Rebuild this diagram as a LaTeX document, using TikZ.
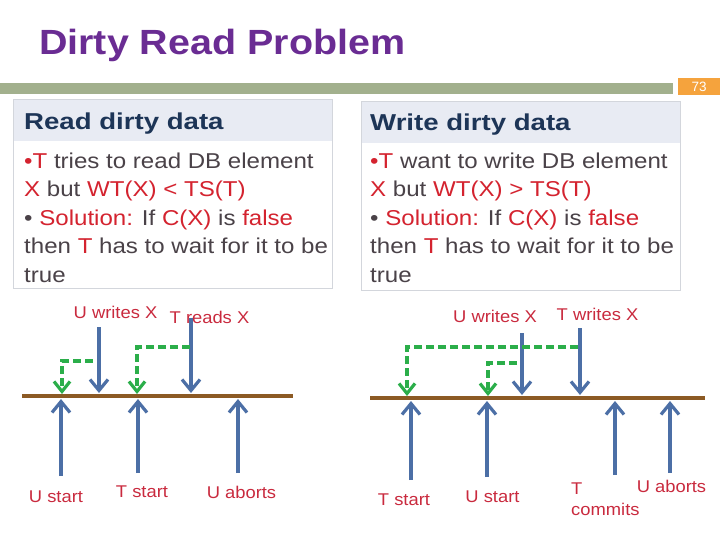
\documentclass[tikz,border=0pt]{standalone}
\usepackage{fontspec}
\setmainfont{Liberation Sans}
\usepackage{graphicx}
\usetikzlibrary{arrows.meta}
\definecolor{titlepurple}{HTML}{6A2C93}
\definecolor{barsage}{HTML}{A2B08D}
\definecolor{numorange}{HTML}{F5A33D}
\definecolor{headnavy}{HTML}{1D3557}
\definecolor{headband}{HTML}{E8EBF3}
\definecolor{boxedge}{HTML}{D3D6DC}
\definecolor{bodygray}{HTML}{4A4248}
\definecolor{bodyred}{HTML}{D4232F}
\definecolor{lblred}{HTML}{C92A3E}
\definecolor{timebrown}{HTML}{8C5A24}
\definecolor{evblue}{HTML}{4C6FA6}
\definecolor{waitgreen}{HTML}{2BAE4A}
\newcommand{\hx}[2]{\scalebox{#1}[1]{#2}}
\newcommand{\rd}[1]{\textcolor{bodyred}{#1}}
\begin{document}
\begin{tikzpicture}[x=1pt,y=-1pt,
  titletext/.style={anchor=base west, inner sep=0, text=titlepurple, font=\bfseries\fontsize{35}{42}\selectfont},
  panelbox/.style={draw=boxedge, line width=1pt, fill=white, minimum width=319, minimum height=189, anchor=north west, inner sep=0},
  panelhead/.style={fill=headband, minimum width=318, minimum height=41, anchor=north west, inner sep=0},
  headtext/.style={anchor=base west, inner sep=0, text=headnavy, font=\bfseries\fontsize{23}{27}\selectfont},
  bodytext/.style={anchor=base west, inner sep=0, text=bodygray, font=\fontsize{21.5}{28.6}\selectfont},
  lbl/.style={anchor=base, inner sep=0, text=lblred, font=\fontsize{17}{20}\selectfont},
  timeline/.style={draw=timebrown, line width=4pt},
  evarrow/.style={draw=evblue, line width=3.2pt, -{Straight Barb[length=11pt,width=18pt]}},
  waitarrow/.style={draw=waitgreen, line width=3.2pt, dash pattern=on 8pt off 4pt, -{Straight Barb[length=10pt,width=16pt]}}
]
\useasboundingbox (0,0) rectangle (720,539);
% title and bar
\node[titletext] (title) at (39,54) {\hx{1.127}{Dirty Read Problem}};
\node[fill=barsage, minimum width=673, minimum height=11, anchor=north west, inner sep=0] (bar) at (0,83) {};
\node[fill=numorange, minimum width=42, minimum height=17, anchor=north west, inner sep=0, text=white, font=\fontsize{13.5}{15}\selectfont] (pnum) at (678,78) {73};
% left panel
\node[panelbox] (lbox) at (13,99) {};
\node[panelhead] (lhead) at (13.5,99.5) {};
\node[headtext] (lheadtxt) at (24,129) {\hx{1.2}{Read dirty data}};
\node[bodytext] (lbody) at (24,168) {\hx{1.12}{\begin{tabular}[t]{@{}l@{}}
\rd{•T} tries to read DB element\\
\rd{X} but \rd{WT(X) < TS(T)}\\
• \rd{Solution:} If \rd{C(X)} is \rd{false}\\
then \rd{T} has to wait for it to be\\
true\end{tabular}}};
% right panel
\node[panelbox] (rbox) at (361,101) {};
\node[panelhead] (rhead) at (361.5,101.5) {};
\node[headtext] (rheadtxt) at (370,130) {\hx{1.2}{Write dirty data}};
\node[bodytext] (rbody) at (370,168) {\hx{1.12}{\begin{tabular}[t]{@{}l@{}}
\rd{•T} want to write DB element\\
\rd{X} but \rd{WT(X) > TS(T)}\\
• \rd{Solution:} If \rd{C(X)} is \rd{false}\\
then \rd{T} has to wait for it to be\\
true\end{tabular}}};
% ---------- left diagram ----------
\coordinate (lA) at (22,396);
\coordinate (lB) at (293,396);
\draw[timeline] (lA) -- (lB);
\node[lbl] (luw) at (115.5,318) {\hx{1.08}{U writes X}};
\node[lbl] (ltr) at (209.5,323) {\hx{1.08}{T reads X}};
\node[lbl] (lus) at (56,502) {\hx{1.08}{U start}};
\node[lbl] (lts) at (142,497) {\hx{1.08}{T start}};
\node[lbl] (lua) at (241.5,498) {\hx{1.08}{U aborts}};
\coordinate (luwTop) at (99,327);
\coordinate (luwTip) at (99,393);
\coordinate (ltrTop) at (191,318);
\coordinate (ltrTip) at (191,393);
\coordinate (lusBot) at (61,476);
\coordinate (lusTip) at (61,399);
\coordinate (ltsBot) at (138,473);
\coordinate (ltsTip) at (138,399);
\coordinate (luaBot) at (238,473);
\coordinate (luaTip) at (238,399);
\draw[evarrow] (luwTop) -- (luwTip);
\draw[evarrow] (ltrTop) -- (ltrTip);
\draw[evarrow] (lusBot) -- (lusTip);
\draw[evarrow] (ltsBot) -- (ltsTip);
\draw[evarrow] (luaBot) -- (luaTip);
\coordinate (lg1s) at (93,361);
\coordinate (lg1e) at (62,394);
\coordinate (lg2s) at (190,347);
\coordinate (lg2e) at (137,394);
\draw[waitarrow] (lg1s) -| (lg1e);
\draw[waitarrow] (lg2s) -| (lg2e);
% ---------- right diagram ----------
\coordinate (rA) at (370,398);
\coordinate (rB) at (705,398);
\draw[timeline] (rA) -- (rB);
\node[lbl] (ruw) at (495,322) {\hx{1.08}{U writes X}};
\node[lbl] (rtw) at (597.5,320) {\hx{1.08}{T writes X}};
\node[lbl] (rts) at (404,505) {\hx{1.08}{T start}};
\node[lbl] (rus) at (492.5,502) {\hx{1.08}{U start}};
\node[lbl, anchor=base west] (rtc) at (571,494) {\hx{1.08}{\begin{tabular}[t]{@{}l@{}}T\\[1pt] commits\end{tabular}}};
\node[lbl] (rua) at (671.5,492) {\hx{1.08}{U aborts}};
\coordinate (ruwTop) at (522,333);
\coordinate (ruwTip) at (522,395);
\coordinate (rtwTop) at (580,328);
\coordinate (rtwTip) at (580,395);
\coordinate (rtsBot) at (411,480);
\coordinate (rtsTip) at (411,401);
\coordinate (rusBot) at (487,477);
\coordinate (rusTip) at (487,401);
\coordinate (rtcBot) at (615,475);
\coordinate (rtcTip) at (615,401);
\coordinate (ruaBot) at (670,473);
\coordinate (ruaTip) at (670,401);
\draw[evarrow] (ruwTop) -- (ruwTip);
\draw[evarrow] (rtwTop) -- (rtwTip);
\draw[evarrow] (rtsBot) -- (rtsTip);
\draw[evarrow] (rusBot) -- (rusTip);
\draw[evarrow] (rtcBot) -- (rtcTip);
\draw[evarrow] (ruaBot) -- (ruaTip);
\coordinate (rg1s) at (578,347);
\coordinate (rg1e) at (407,396);
\coordinate (rg2s) at (517,363);
\coordinate (rg2e) at (488,396);
\draw[waitarrow] (rg1s) -| (rg1e);
\draw[waitarrow] (rg2s) -| (rg2e);
\end{tikzpicture}
\end{document}
